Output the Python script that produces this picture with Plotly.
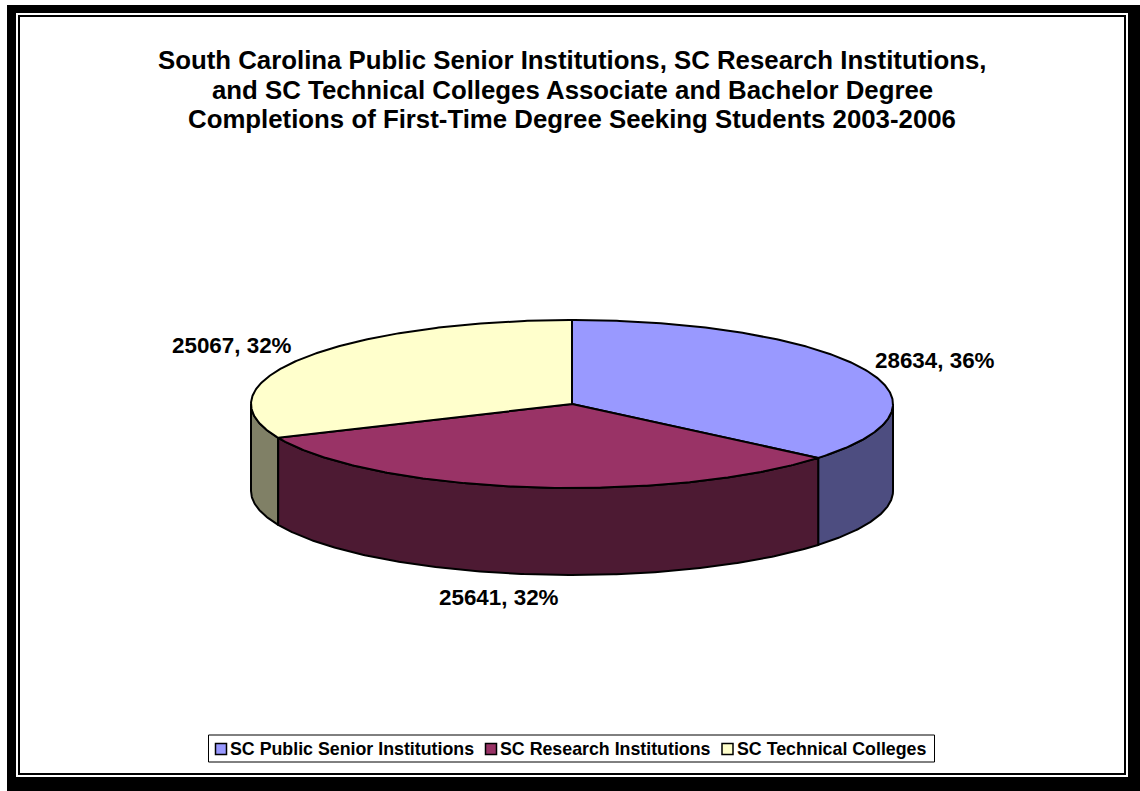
import math
import plotly.graph_objects as go

categories = ["SC Public Senior Institutions", "SC Research Institutions", "SC Technical Colleges"]
values = [28634, 25641, 25067]
title_lines = [
    "South Carolina Public Senior Institutions, SC Research Institutions,",
    "and SC Technical Colleges Associate and Bachelor Degree",
    "Completions of First-Time Degree Seeking Students 2003-2006",
]

top_colors = ["#9999FF", "#993366", "#FFFFCC"]
side_colors = ["#4D4D80", "#4D1A33", "#808066"]

W, H = 1140, 791
CX, CY, RX, RY, DEPTH = 572, 404, 321, 84, 87
FONT = "Liberation Sans, Arial, sans-serif"
TITLE_SIZE, LABEL_SIZE, LEGEND_SIZE = 25.8, 22.4, 17.8
LINE = 2


def pt(deg, dy=0):
    a = math.radians(deg)
    return CX + RX * math.sin(a), CY - RY * math.cos(a) + dy


def arc(a0, a1, dy=0, step=0.5):
    n = max(2, int(abs(a1 - a0) / step) + 1)
    return [pt(a0 + (a1 - a0) * i / (n - 1), dy) for i in range(n)]


total = sum(values)
angles = [0]
for v in values:
    angles.append(angles[-1] + 360 * v / total)

fig = go.Figure()


def poly(points, fill, line_w=LINE):
    fig.add_trace(go.Scatter(
        x=[p[0] for p in points], y=[p[1] for p in points],
        mode="lines", fill="toself", fillcolor=fill,
        line=dict(color="#000000", width=line_w),
        hoverinfo="skip", showlegend=False))


# side walls (only the front half of the rim is visible)
for i in [2, 0, 1]:
    a0, a1 = max(angles[i], 90), min(angles[i + 1], 270)
    if a1 > a0:
        front = arc(a0, a1)
        back = arc(a1, a0, DEPTH)
        poly(front + back + [front[0]], side_colors[i])

# top faces
for i in range(3):
    pts = [(CX, CY)] + arc(angles[i], angles[i + 1]) + [(CX, CY)]
    poly(pts, top_colors[i])

annotations = []
for ty, t in zip([60, 90, 119], title_lines):
    annotations.append(dict(
        x=572, y=ty, xref="x", yref="y", showarrow=False, align="center",
        text=f"<b>{t}</b>",
        font=dict(family=FONT, size=TITLE_SIZE, color="#000000")))

label_xy = [(935, 360), (499, 597), (232, 345)]
for (lx, ly), v in zip(label_xy, values):
    annotations.append(dict(
        x=lx, y=ly, xref="x", yref="y", showarrow=False,
        text=f"<b>{v}, {round(100 * v / total)}%</b>",
        font=dict(family=FONT, size=LABEL_SIZE, color="#000000")))

# legend
legend_sq_x = [221, 491, 727.5]
legend_y = 749
for sx, name, col in zip(legend_sq_x, categories, top_colors):
    fig.add_trace(go.Scatter(
        x=[sx], y=[legend_y], mode="markers",
        marker=dict(symbol="square", size=11, color=col, line=dict(color="#000000", width=1.5)),
        hoverinfo="skip", showlegend=False))
    annotations.append(dict(
        x=sx + 7, y=legend_y, xref="x", yref="y", xanchor="left", showarrow=False,
        text=f"<b>{name}</b>", font=dict(family=FONT, size=LEGEND_SIZE, color="#000000")))

black = dict(type="rect", xref="x", yref="y", fillcolor="#000000", line=dict(width=0), layer="below")
shapes = [
    dict(black, x0=7, y0=5, x1=W, y1=H),
    dict(black, x0=16, y0=13, x1=1128, y1=777, fillcolor="#FFFFFF"),
    dict(black, x0=18, y0=15, x1=1126, y1=775),
    dict(black, x0=20, y0=17, x1=1124, y1=773, fillcolor="#FFFFFF"),
    dict(type="rect", xref="x", yref="y", x0=208.5, y0=735, x1=934.5, y1=762,
         fillcolor="#FFFFFF", line=dict(color="#000000", width=1), layer="below"),
]

fig.update_layout(
    width=W, height=H, margin=dict(l=0, r=0, t=0, b=0),
    paper_bgcolor="#FFFFFF", plot_bgcolor="#FFFFFF", showlegend=False,
    xaxis=dict(range=[0, W], visible=False, fixedrange=True),
    yaxis=dict(range=[H, 0], visible=False, fixedrange=True),
    annotations=annotations, shapes=shapes)

fig.write_html("out.html", config=dict(displayModeBar=False, responsive=False),
               post_script="document.body.style.margin='0';document.body.style.overflow='hidden';")
